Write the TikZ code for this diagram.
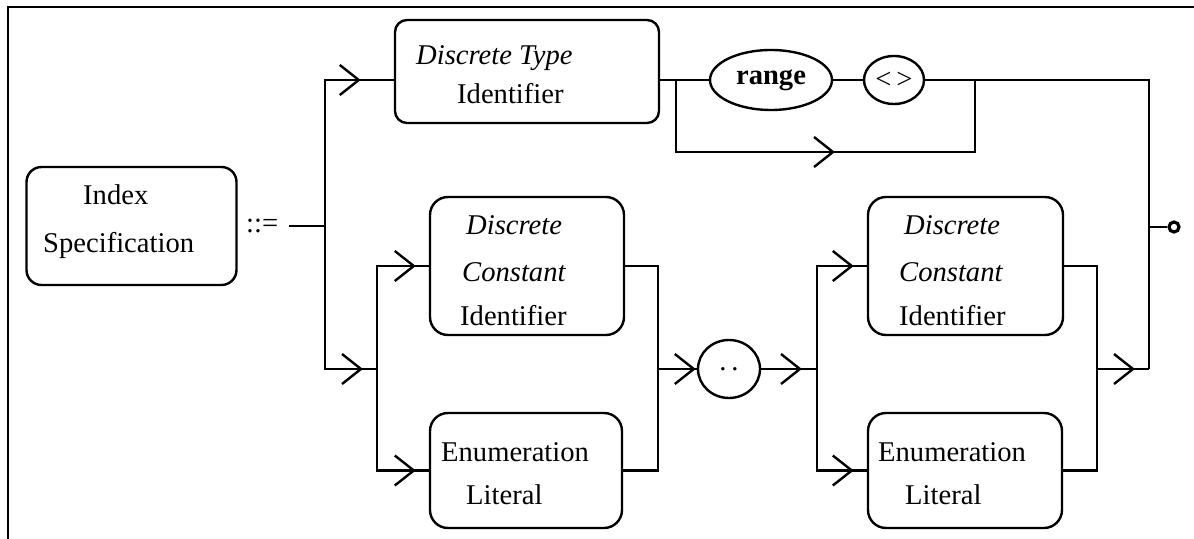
\documentclass[tikz,border=0pt]{standalone}
\usepackage{fontspec}
\setmainfont{Liberation Serif}
\usetikzlibrary{decorations.markings,shapes.geometric}
\tikzset{
	blk/.style={draw,rectangle,inner sep=0pt},
	oval/.style={draw,ellipse,inner sep=0pt},
	txt/.style={anchor=base west,inner sep=0pt},
	chev/.style={postaction={decorate},decoration={markings,
		mark=at position #1 with {\draw[line join=miter] (-9.5pt,-7.5pt)--(0pt,0pt)--(-9.5pt,7.5pt);}}}
}
\begin{document}
\begin{tikzpicture}[x=0.5pt,y=-0.5pt,line width=1.2pt,font=\fontsize{14.3}{17}\selectfont]
	\useasboundingbox (0,0) rectangle (1194,539);
	\draw (8,540)--(8,7)--(1195,7);
	% boxes
	\node[blk,rounded corners=7.5pt,minimum width=105pt,minimum height=59pt] (idx) at (131.5,226) {};
	\node[blk,rounded corners=6pt,minimum width=132pt,minimum height=51.5pt] (dti) at (527,71.5) {};
	\node[blk,rounded corners=9pt,minimum width=97pt,minimum height=69pt] (dc1) at (527,266) {};
	\node[blk,rounded corners=9pt,minimum width=96pt,minimum height=57.5pt] (el1) at (526,470.5) {};
	\node[blk,rounded corners=9pt,minimum width=97.5pt,minimum height=69pt] (dc2) at (965.5,266) {};
	\node[blk,rounded corners=9pt,minimum width=97pt,minimum height=57.5pt] (el2) at (965,470.5) {};
	\node[oval,minimum width=61pt,minimum height=30pt] (rng) at (771,80) {\textbf{range}};
	\node[oval,minimum width=30pt,minimum height=24pt] (box) at (894,80) {<\,>};
	\node[oval,minimum width=31pt,minimum height=29pt] (dots) at (729,369) {.\,.};
	\node[draw,circle,line width=1.6pt,minimum size=5pt,inner sep=0pt] (stop) at (1174,227) {};
	% texts
	\node[txt] (t1) at (82,205) {Index};
	\node[txt] (t2) at (42,253) {Specification};
	\node[txt] (dfn) at (245,233) {::=};
	\node[txt] (t3) at (415,65) {\textit{Discrete Type}};
	\node[txt] (t4) at (456,104) {Identifier};
	\node[txt] (t5) at (465,235) {\textit{Discrete}};
	\node[txt] (t6) at (461,282) {\textit{Constant}};
	\node[txt] (t7) at (459,326) {Identifier};
	\node[txt] (t8) at (440,462) {Enumeration};
	\node[txt] (t9) at (465,504) {Literal};
	\node[txt] (t10) at (903,235) {\textit{Discrete}};
	\node[txt] (t11) at (898,282) {\textit{Constant}};
	\node[txt] (t12) at (898,326) {Identifier};
	\node[txt] (t13) at (877,462) {Enumeration};
	\node[txt] (t14) at (904,504) {Literal};
	% junctions
	\coordinate (defend) at (289,226);
	\coordinate (split) at (325,226);
	\coordinate (topL) at (325,80);
	\coordinate (botL) at (325,369);
	\coordinate (g1) at (377,369);
	\coordinate (m1) at (658,369);
	\coordinate (g2) at (817,369);
	\coordinate (m2) at (1097,369);
	\coordinate (byL) at (676,80);
	\coordinate (byB) at (676,152);
	\coordinate (byR) at (975,80);
	\coordinate (exT) at (1149,80);
	\coordinate (exM) at (1149,227);
	\coordinate (exB) at (1149,369);
	% connectors
	\draw (defend)--(split);
	\draw[chev=-17.5pt] (split)--(topL)--(topL -| dti.west);
	\draw[chev=-8pt] (split)--(botL)--(g1);
	\draw[chev=-7.5pt] (g1) |- (dc1.west);
	\draw[chev=-7.5pt] (g1) |- (el1.west);
	\draw (dc1.east) -| (m1);
	\draw (el1.east) -| (m1);
	\draw[chev=-1.5pt] (m1)--(dots.west);
	\draw[chev=-8.5pt] (dots.east)--(g2);
	\draw[chev=-7.5pt] (g2) |- (dc2.west);
	\draw[chev=-7.5pt] (g2) |- (el2.west);
	\draw (dc2.east) -| (m2);
	\draw (el2.east) -| (m2);
	\draw[chev=-8pt] (m2)--(exB);
	\draw (topL -| dti.east)--(rng.west);
	\draw (rng.east)--(box.west);
	\draw (box.east)--(exT)--(exB);
	\draw (exM)--(stop.west);
	\draw[chev=114.5pt] (byL)--(byB) -| (byR);
\end{tikzpicture}
\end{document}
